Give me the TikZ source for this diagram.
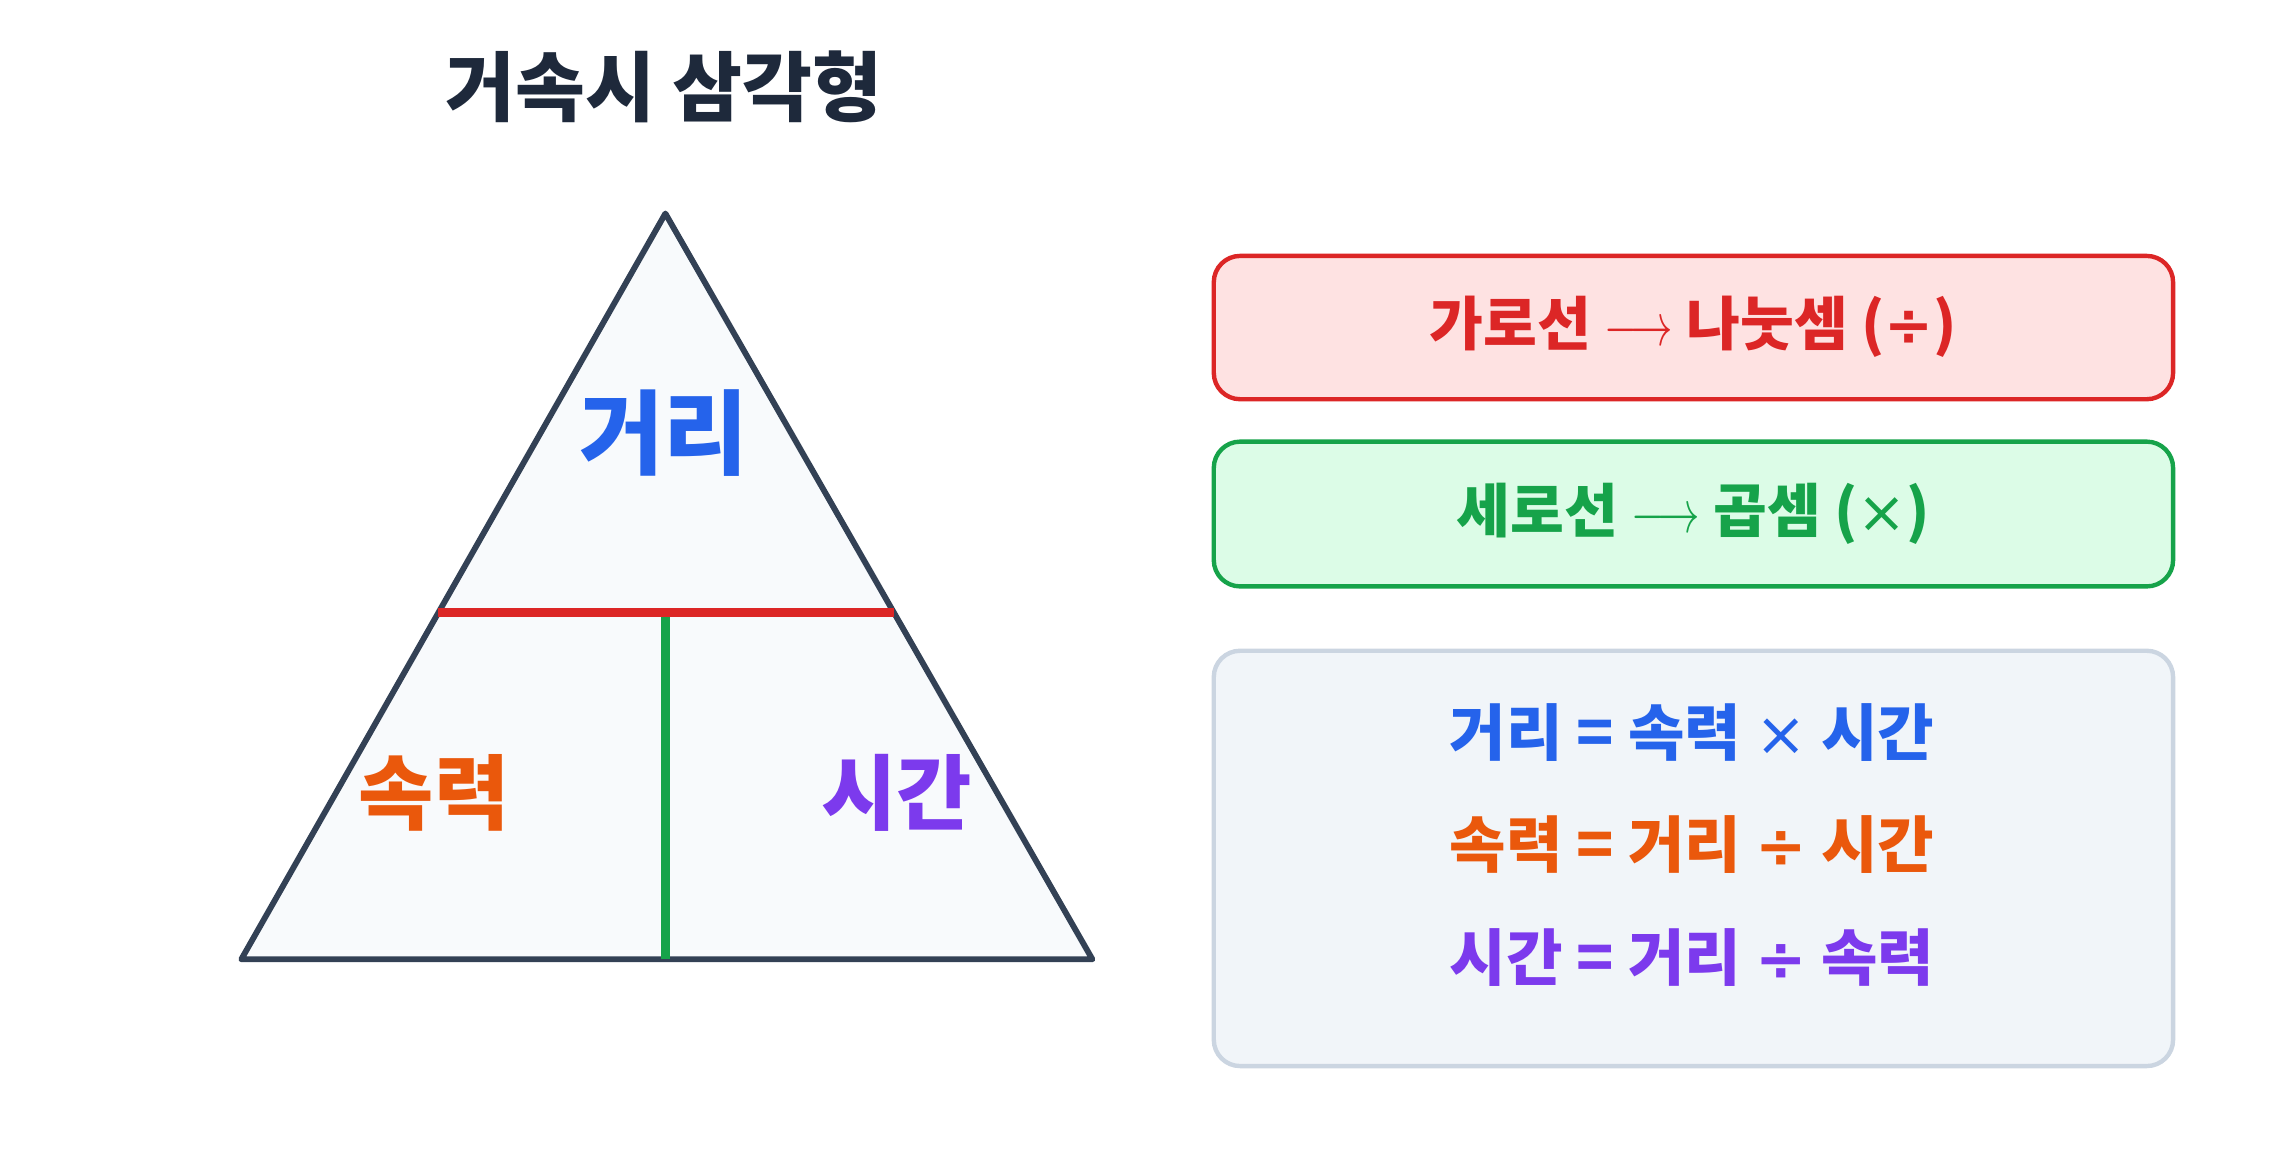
\documentclass[tikz,border=0pt]{standalone}
\usepackage{fontspec}
\usepackage{graphicx}
\setmainfont{Noto Sans CJK KR}
\newfontfamily\symfont{DejaVu Sans}
\newcommand{\mytimes}{{\mdseries\symfont ×}}
\newcommand{\mydiv}{{\bfseries\symfont ÷}}
\newcommand{\myarrow}{\scalebox{0.7}[1]{$\longrightarrow$}}
\definecolor{titlec}{HTML}{1E293B}
\definecolor{tristroke}{HTML}{334155}
\definecolor{trifill}{HTML}{F8FAFC}
\definecolor{redc}{HTML}{DC2626}
\definecolor{greenc}{HTML}{16A34A}
\definecolor{bluec}{HTML}{2563EB}
\definecolor{orangec}{HTML}{EA580C}
\definecolor{purplec}{HTML}{7C3AED}
\definecolor{redfill}{HTML}{FEE2E2}
\definecolor{greenfill}{HTML}{DCFCE7}
\definecolor{grayfill}{HTML}{F1F5F9}
\definecolor{graystroke}{HTML}{CBD5E1}
\tikzset{
  lbl/.style={inner sep=0pt, anchor=base},
  titletext/.style={lbl, font=\bfseries\fontsize{26pt}{30pt}\selectfont, text=titlec},
  bigtri/.style={lbl, font=\bfseries\fontsize{31.5pt}{36pt}\selectfont},
  smalltri/.style={lbl, font=\bfseries\fontsize{28pt}{32pt}\selectfont},
  boxtext/.style={lbl, font=\bfseries\fontsize{20pt}{24pt}\selectfont},
  formula/.style={lbl, font=\bfseries\fontsize{21pt}{25pt}\selectfont},
  rulebox/.style={rounded corners=9pt, line width=1.5pt},
}
\begin{document}
\begin{tikzpicture}[x=0.5pt,y=-0.5pt]
\useasboundingbox (0,0) rectangle (1568,802);
% title
\node[titletext] (title) at (454,79) {거속시 삼각형};
% triangle
\coordinate (apex) at (455,146);
\coordinate (bl) at (165,656);
\coordinate (br) at (747,656);
\draw[line width=2pt, draw=tristroke, fill=trifill, line join=round] (apex) -- (bl) -- (br) -- cycle;
\coordinate (hl) at (299.8,419);
\coordinate (hr) at (611.3,419);
\coordinate (vt) at (455,419);
\coordinate (vb) at (455,656);
\draw[line width=3pt, draw=greenc] (vt) -- (vb);
\draw[line width=3pt, draw=redc] (hl) -- (hr);
\node[bigtri, text=bluec] (dist) at (454,320) {거리};
\node[smalltri, text=orangec] (speed) at (297,563) {속력};
\node[smalltri, text=purplec] (time) at (613,563) {시간};
% rule boxes
\draw[rulebox, draw=redc, fill=redfill] (830,175) rectangle (1486,273);
\node[boxtext, text=redc] (hrule) at (1158,236) {가로선 \myarrow{} 나눗셈 (\mydiv)};
\draw[rulebox, draw=greenc, fill=greenfill] (830,302) rectangle (1486,401);
\node[boxtext, text=greenc] (vrule) at (1158,364) {세로선 \myarrow{} 곱셈 (\mytimes)};
% formula box
\draw[rulebox, draw=graystroke, fill=grayfill] (830,445) rectangle (1486,729);
\node[formula, text=bluec] (f1) at (1157,516.5) {거리 = 속력 \mytimes{} 시간};
\node[formula, text=orangec] (f2) at (1157,593.5) {속력 = 거리 \mydiv{} 시간};
\node[formula, text=purplec] (f3) at (1157,670.5) {시간 = 거리 \mydiv{} 속력};
\end{tikzpicture}
\end{document}
